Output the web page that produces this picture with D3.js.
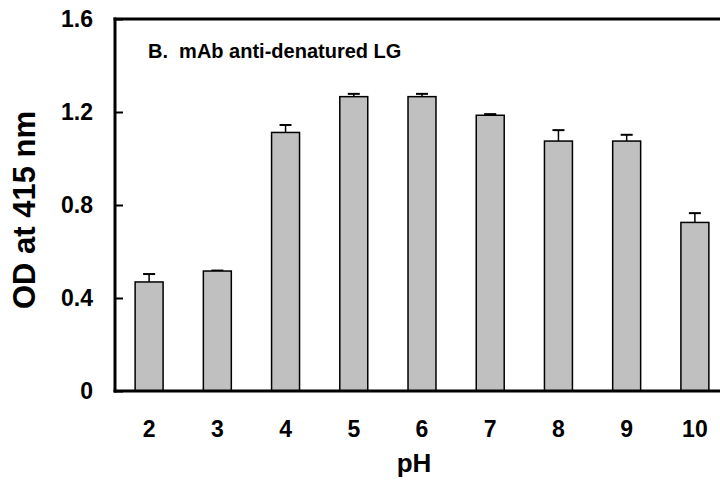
<!DOCTYPE html>
<html>
<head>
<meta charset="utf-8">
<script src="https://cdn.jsdelivr.net/npm/d3@7"></script>
<style>
  body { margin: 0; background: #fff; }
  text { font-family: "Liberation Sans", Arial, sans-serif; font-weight: bold; fill: #000; }
</style>
</head>
<body>
<svg id="chart" width="720" height="480"></svg>
<script>
// chart data
const phValues = ['2', '3', '4', '5', '6', '7', '8', '9', '10'];
const odValues = [0.469, 0.516, 1.112, 1.266, 1.266, 1.186, 1.075, 1.075, 0.725];
const odErrors = [0.034, 0.002, 0.032, 0.012, 0.012, 0.005, 0.047, 0.027, 0.040];
const yTicks = [0, 0.4, 0.8, 1.2, 1.6];
const yTickLabels = ['0', '0.4', '0.8', '1.2', '1.6'];

const svg = d3.select('#chart');

// plot area runs off the right edge, like the original figure
const plotLeft = 115, plotTop = 19, plotBottom = 391, plotRight = 729;

const x = d3.scaleBand()
    .domain(phValues)
    .range([plotLeft, plotRight])
    .padding(0);

const y = d3.scaleLinear()
    .domain([0, 1.6])
    .range([plotBottom, plotTop]);

const barWidth = x.bandwidth() * 0.41;
const data = phValues.map((p, i) => ({ p: p, v: odValues[i], e: odErrors[i] }));

// error bars first so the bar outline sits on top of the stem
const err = svg.append('g');
err.selectAll('line.stem')
    .data(data)
  .enter().append('line')
    .attr('x1', d => x(d.p) + x.bandwidth() / 2)
    .attr('x2', d => x(d.p) + x.bandwidth() / 2)
    .attr('y1', d => y(d.v))
    .attr('y2', d => y(d.v + d.e))
    .attr('stroke', '#000')
    .attr('stroke-width', 1.5);
err.selectAll('line.cap')
    .data(data)
  .enter().append('line')
    .attr('x1', d => x(d.p) + x.bandwidth() / 2 - 6)
    .attr('x2', d => x(d.p) + x.bandwidth() / 2 + 6)
    .attr('y1', d => y(d.v + d.e))
    .attr('y2', d => y(d.v + d.e))
    .attr('stroke', '#000')
    .attr('stroke-width', 2);

svg.append('g').selectAll('rect')
    .data(data)
  .enter().append('rect')
    .attr('x', d => x(d.p) + (x.bandwidth() - barWidth) / 2)
    .attr('y', d => y(d.v))
    .attr('width', barWidth)
    .attr('height', d => y(0) - y(d.v))
    .attr('fill', '#c0c0c0')
    .attr('stroke', '#000')
    .attr('stroke-width', 1.5);

// frame: left axis, top and bottom borders
const frame = svg.append('g')
    .attr('stroke', '#000')
    .attr('stroke-width', 3)
    .attr('stroke-linecap', 'square');
frame.append('line').attr('x1', plotLeft).attr('x2', 720).attr('y1', y(1.6)).attr('y2', y(1.6));
frame.append('line').attr('x1', plotLeft).attr('x2', 720).attr('y1', y(0)).attr('y2', y(0));
frame.append('line').attr('x1', plotLeft).attr('x2', plotLeft).attr('y1', y(0)).attr('y2', y(1.6));

// y axis: inward ticks, labels on the left
const yAxis = d3.axisLeft(y)
    .tickValues(yTicks)
    .tickFormat((d, i) => yTickLabels[i])
    .tickSizeInner(-8)
    .tickSizeOuter(0)
    .tickPadding(22);
const gy = svg.append('g')
    .attr('transform', `translate(${plotLeft},0)`)
    .call(yAxis);
gy.select('.domain').remove();
gy.selectAll('.tick line').attr('stroke-width', 2);
gy.selectAll('.tick text')
    .style('font-size', '23px')
    .style('font-family', '"Liberation Sans", Arial, sans-serif')
    .style('font-weight', 'bold');

// x axis: labels only
const xAxis = d3.axisBottom(x)
    .tickSize(0)
    .tickPadding(30);
const gx = svg.append('g')
    .attr('transform', `translate(0,${plotBottom})`)
    .call(xAxis);
gx.select('.domain').remove();
gx.selectAll('.tick text')
    .style('font-size', '23px')
    .style('font-family', '"Liberation Sans", Arial, sans-serif')
    .style('font-weight', 'bold');

svg.append('text')
    .attr('x', 414)
    .attr('y', 472)
    .attr('text-anchor', 'middle')
    .style('font-size', '26px')
    .text('pH');

svg.append('text')
    .attr('transform', 'translate(35,210) rotate(-90)')
    .attr('text-anchor', 'middle')
    .style('font-size', '31px')
    .text('OD at 415 nm');

svg.append('text')
    .attr('x', 148)
    .attr('y', 58)
    .attr('xml:space', 'preserve')
    .style('font-size', '20px')
    .style('white-space', 'pre')
    .text('B.  mAb anti-denatured LG');
</script>
</body>
</html>
